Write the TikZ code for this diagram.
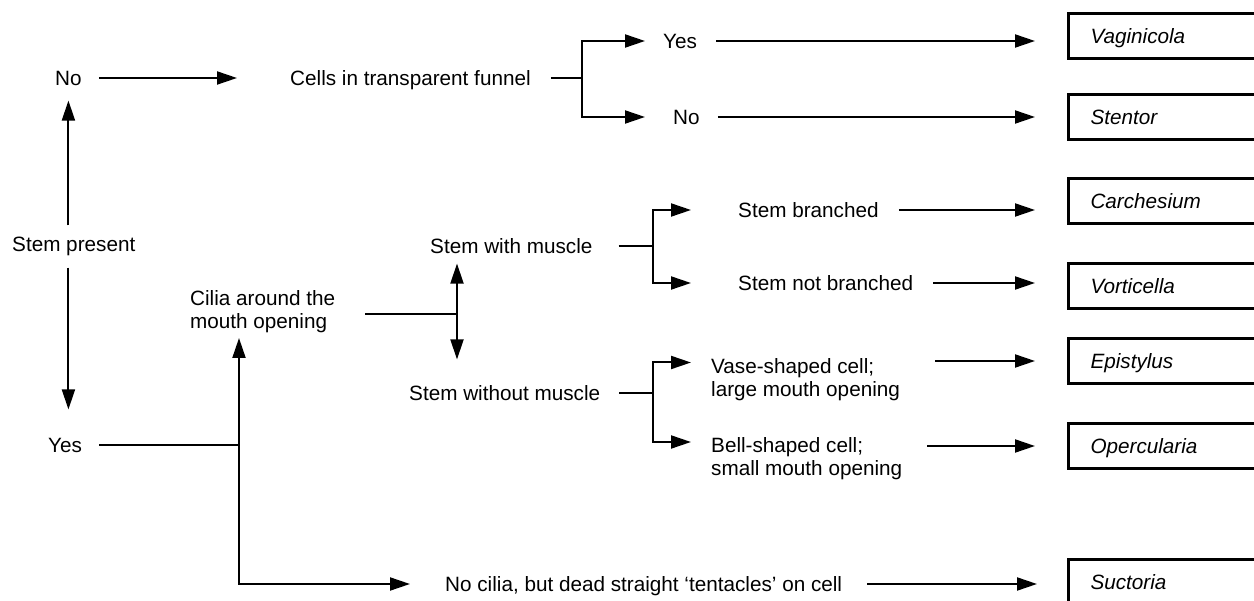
\documentclass[tikz,border=0pt]{standalone}
\usepackage{fontspec}
\setmainfont{Liberation Sans}
\usetikzlibrary{arrows.meta}
\begin{document}
\begin{tikzpicture}[x=1pt,y=-1pt,
 lbl/.style={font=\fontsize{20.7}{23}\selectfont, inner sep=0pt, text height=14.8pt, text depth=0pt, anchor=west},
 mlbl/.style={font=\fontsize{20.7}{23}\selectfont, inner sep=0pt, align=left, anchor=north west},
 taxon/.style={draw, line width=3pt, font=\fontsize{20.7}{24}\selectfont\itshape, minimum height=45pt, text width=160pt, inner xsep=22pt, inner ysep=0pt, anchor=west, align=left, text height=14.8pt, text depth=0pt},
 con/.style={line width=2pt},
 arr/.style={line width=2pt, -{Triangle[length=20pt,width=13pt]}},
 darr/.style={line width=2pt, {Triangle[length=20pt,width=13pt]}-{Triangle[length=20pt,width=13pt]}},
]
\useasboundingbox (0,0) rectangle (1254,601);

% labels
\node[lbl] (no1) at (55,78) {No};
\node[lbl] (cells) at (290,78) {Cells in transparent funnel};
\node[lbl] (yes2) at (663,41) {Yes};
\node[lbl] (no2) at (673,117) {No};
\node[lbl] (sp) at (12,244) {Stem present};
\node[lbl] (yes1) at (48,445) {Yes};
\node[mlbl] (cilia) at (190,290) {Cilia around the\\mouth opening};
\node[lbl] (swm) at (430,246) {Stem with muscle};
\node[lbl] (swo) at (409,393) {Stem without muscle};
\node[lbl] (sb) at (738,210) {Stem branched};
\node[lbl] (snb) at (738,283) {Stem not branched};
\node[mlbl] (vase) at (711,358.5) {Vase-shaped cell;\\large mouth opening};
\node[mlbl] (bell) at (711,437) {Bell-shaped cell;\\small mouth opening};
\node[lbl] (nocil) at (445,584) {No cilia, but dead straight ‘tentacles’ on cell};

% result boxes
\node[taxon] (vag) at (1067,36) {Vaginicola};
\node[taxon] (sten) at (1067,117) {Stentor};
\node[taxon] (carch) at (1067,201) {Carchesium};
\node[taxon] (vort) at (1067,286) {Vorticella};
\node[taxon] (epi) at (1067,361) {Epistylus};
\node[taxon] (oper) at (1067,446) {Opercularia};
\node[taxon] (suct) at (1067,582) {Suctoria};

% helper points
\coordinate (b1) at (582,78);
\coordinate (b2) at (653,246);
\coordinate (b3) at (653,393);
\coordinate (v1) at (239,445);
\coordinate (v0) at (239,584);
\coordinate (ciltip) at (239,338);
\coordinate (d0) at (457,314);
\path (vase.north west) ++(0,4) coordinate (vaseA);
\path (bell.north west) ++(0,5) coordinate (bellA);

% Stem present
\draw[arr, shorten <=11pt, shorten >=15pt] (no1.south |- sp.north) -- (no1.south);
\draw[arr, shorten <=16pt, shorten >=28pt] (no1.south |- sp.south) -- (no1.south |- yes1.north);

% No branch
\draw[arr, shorten <=17pt, shorten >=53pt] (no1.east) -- (cells.west);
\draw[con, shorten <=20pt] (cells.east) -- (b1);
\draw[arr, shorten >=18pt] (b1) |- (yes2.west);
\draw[arr, shorten >=28pt] (b1) |- (no2.west);
\draw[arr, shorten <=19pt, shorten >=32pt] (yes2.east) -- (yes2.east -| vag.west);
\draw[arr, shorten <=18pt, shorten >=32pt] (no2.east) -- (no2.east -| sten.west);

% Yes branch
\draw[con, shorten <=17pt] (yes1.east) -- (v1);
\draw[darr, shorten >=35pt] (ciltip) -- (v0) -- (nocil.west);
\draw[arr, shorten <=25pt, shorten >=30pt] (nocil.east) -- (nocil.east -| suct.west);

% Cilia
\draw[con, shorten <=30pt] (cilia.east |- d0) -- (d0);
\draw[darr, shorten <=10pt, shorten >=26pt] (d0 |- swm.south) -- (d0 |- swo.north);

% Stem with muscle
\draw[con, shorten <=26pt] (swm.east) -- (b2);
\draw[arr, shorten >=47pt] (b2) |- (sb.west);
\draw[arr, shorten >=47pt] (b2) |- (snb.west);
\draw[arr, shorten <=20pt, shorten >=32pt] (sb.east) -- (sb.east -| carch.west);
\draw[arr, shorten <=20pt, shorten >=32pt] (snb.east) -- (snb.east -| vort.west);

% Stem without muscle
\draw[con, shorten <=19pt] (swo.east) -- (b3);
\draw[arr, shorten >=20pt] (b3) |- (vaseA);
\draw[arr, shorten >=20pt] (b3) |- (bellA);
\draw[arr, shorten <=35pt, shorten >=32pt] (vase.east |- epi.west) -- (epi.west);
\draw[arr, shorten <=25pt, shorten >=32pt] (bell.east |- oper.west) -- (oper.west);
\end{tikzpicture}
\end{document}
